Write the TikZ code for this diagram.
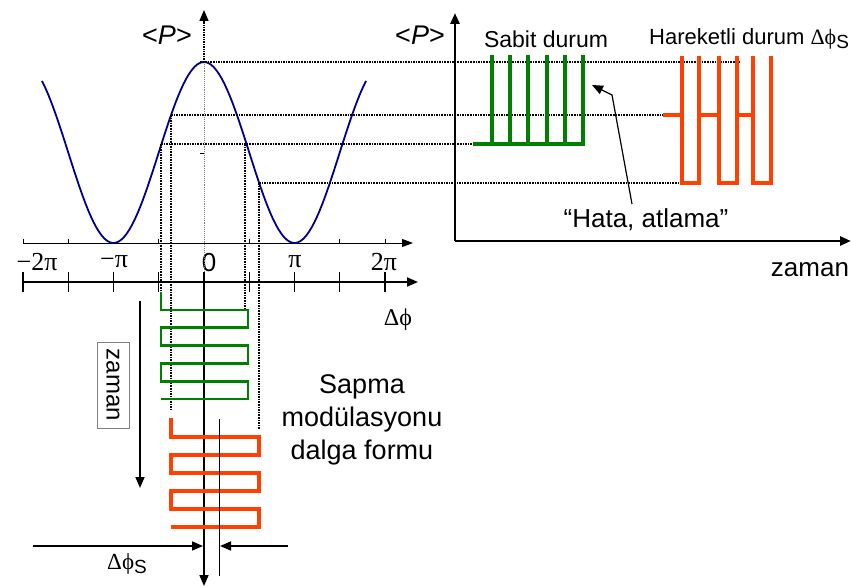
\documentclass[tikz,border=0pt]{standalone}
\usepackage{fontspec}
\setmainfont{Liberation Sans}
\newfontfamily\grk{Liberation Serif}
\usepackage{tikz}
\usetikzlibrary{calc,arrows.meta}

\definecolor{curveblue}{RGB}{0,0,140}
\definecolor{wavegreen}{RGB}{0,128,0}
\definecolor{wavered}{RGB}{255,64,0}

\begin{document}
\begin{tikzpicture}[x=1pt, y=-1pt]
  \useasboundingbox (0,0) rectangle (852,588);
  \pgfmathsetmacro{\xo}{204}    % phase zero
  \pgfmathsetmacro{\pu}{90.5}   % one pi
  \pgfmathsetmacro{\pmid}{152.5}
  \pgfmathsetmacro{\amp}{90.5}

  \tikzset{
    txt/.style={font=\fontsize{23}{27}\selectfont, inner sep=0pt},
    bigtxt/.style={font=\fontsize{26}{30}\selectfont, inner sep=0pt},
    grktxt/.style={font=\grk\fontsize{26}{28}\selectfont, inner sep=0pt},
    guide/.style={densely dotted, line width=1.6pt},
    tip/.style={-{Triangle[length=11pt, width=9pt]}},
    thick axis/.style={tip, line width=2.6pt},
    thin axis/.style={-{Triangle[length=11pt, width=8pt]}, line width=0.9pt},
    green wave/.style={wavegreen, line width=3.2pt},
    red wave/.style={wavered, line width=3.6pt},
  }
  \newcommand{\dphis}{{\grk Δϕ}\raisebox{-4pt}{\fontsize{19}{19}\selectfont S}}

  % phase axes
  \coordinate (ua0) at (23,243);   \coordinate (ua1) at (413,243);
  \coordinate (la0) at (23,282);   \coordinate (la1) at (418,282);
  \draw[thin axis] (ua0) -- (ua1);
  \draw[thick axis, line width=2pt] (la0) -- (la1);
  \foreach \k in {-4,...,4} {
    \draw[line width=1.2pt] ({\xo+\k*\pu/2},272) -- ({\xo+\k*\pu/2},292);
  }
  \foreach \k in {-4,-3,-1,1,3,4} {
    \draw[line width=0.9pt] ({\xo+\k*\pu/2},243) -- ({\xo+\k*\pu/2},239);
  }
  \node[grktxt] (lm2) at (37,262) {−2π};
  \node[grktxt] (lm1) at (114,262) {−π};
  \node[bigtxt] (l0)  at (209,263) {0};
  \node[grktxt] (lp1) at (295,262) {π};
  \node[grktxt] (lp2) at (384,262) {2π};
  \node[grktxt, font=\grk\fontsize{24}{26}\selectfont] (dphi) at (398,320) {Δϕ};

  % power axis
  \coordinate (pmax) at (204,62);
  \coordinate (ptop) at (204,10);
  \coordinate (pbot) at (204,586);
  \draw[guide, tip, line width=1.4pt] (pmax) -- (ptop);
  \draw[gray, densely dotted, line width=0.9pt] (pmax) -- (204,282);
  \draw[line width=0.9pt] (200,153) -- (204,153);
  \draw[tip, line width=1.6pt] (204,272) -- (pbot);
  \node[txt, font=\fontsize{27}{30}\selectfont] (pl) at (167,35) {<\textit{P}>};

  % mean power curve
  \draw[curveblue, line width=1.8pt]
    plot[domain=42:366, samples=120] (\x, {\pmid-\amp*cos((\x-\xo)/\pu*180)});

  % working points
  \coordinate (qa) at (171,115);
  \coordinate (qb) at (161,144);
  \coordinate (qc) at (245,144);
  \coordinate (qd) at (259,183);
  \draw[guide] (200,62) -- (740,62);
  \draw[guide] (qa) -- (663,115);
  \draw[guide] (qb) -- (473,144);
  \draw[guide] (qd) -- (682,183);
  \draw[guide] (qb) -- (161,292);
  \draw[guide] (qa) -- (171,410);
  \draw[guide] (qc) -- (245,310);
  \draw[guide] (qd) -- (259,430);

  % modulation, steady and shifted
  \draw[green wave, line width=2.8pt, line join=miter] (161,292) -- (161,310)
    -- (248,310) -- (248,327.8) -- (161,327.8) -- (161,345.6)
    -- (248,345.6) -- (248,363.4) -- (161,363.4) -- (161,381.2)
    -- (248,381.2) -- (248,399) -- (161,399);
  \draw[red wave, line width=3.2pt, line join=miter] (171,418) -- (171,437)
    -- (259,437) -- (259,455) -- (171,455) -- (171,473)
    -- (259,473) -- (259,491) -- (171,491) -- (171,509)
    -- (259,509) -- (259,527) -- (171,527);
  \draw[line width=0.9pt] (219,419) -- (219,576);

  \coordinate (za) at (140,301);
  \coordinate (zb) at (140,488);
  \draw[tip, line width=1.6pt] (za) -- (zb);
  \node[txt, font=\fontsize{24}{26}\selectfont, rotate=-90, draw=gray,
        fill=white, line width=0.8pt, inner xsep=7pt, inner ysep=4pt,
        minimum height=32pt] (zbox) at (113,385) {zaman};

  \node[txt, align=center, font=\fontsize{27}{33}\selectfont] (sapma)
    at (362,420) {Sapma\\modülasyonu\\dalga formu};

  % shift marks
  \coordinate (sl0) at (33,546);  \coordinate (sl1) at (203,546);
  \coordinate (sr0) at (288,546); \coordinate (sr1) at (220,546);
  \draw[tip, line width=1.6pt] (sl0) -- (sl1);
  \draw[tip, line width=1.6pt] (sr0) -- (sr1);
  \node[txt] (dphisl) at (127,564) {\dphis};

  % detector output vs time
  \coordinate (o) at (455,241);
  \coordinate (oy) at (455,13);
  \coordinate (ox) at (851,241);
  \draw[thick axis, line width=2.8pt] (o) -- (oy);
  \draw[thick axis, line width=2.8pt] (o) -- (ox);
  \node[txt, font=\fontsize{27}{30}\selectfont] (pr) at (420,35) {<\textit{P}>};
  \node[txt, font=\fontsize{26}{30}\selectfont] (zt) at (810,270) {zaman};

  \node[txt] (sabit) at (546,39) {Sabit durum};
  \draw[green wave] (473,144) -- (583,144) -- (583,55);
  \foreach \sx in {492,510,528,547,565} {
    \draw[green wave] (\sx,144) -- (\sx,55);
  }

  \node[txt, font=\fontsize{22}{26}\selectfont, anchor=west] (hareket)
    at (649,39) {Hareketli durum \dphis};
  \draw[red wave] (663,115) -- (682,115);
  \foreach \ra/\rb in {682/699,719/737,753/771} {
    \draw[red wave, line join=miter] (\ra,56) -- (\ra,183) -- (\rb,183) -- (\rb,56);
  }
  \draw[red wave] (699,115) -- (719,115);
  \draw[red wave] (737,115) -- (753,115);

  \node[txt, font=\fontsize{26}{30}\selectfont] (hata) at (646,220) {“Hata, atlama”};
  \coordinate (hfoot) at (632,204);
  \coordinate (hbend) at (612,95);
  \coordinate (htip) at (592,85);
  \draw[-{Triangle[length=11pt, width=9pt]}, line width=1.2pt]
    (hfoot) -- (hbend) -- (htip);
\end{tikzpicture}
\end{document}
